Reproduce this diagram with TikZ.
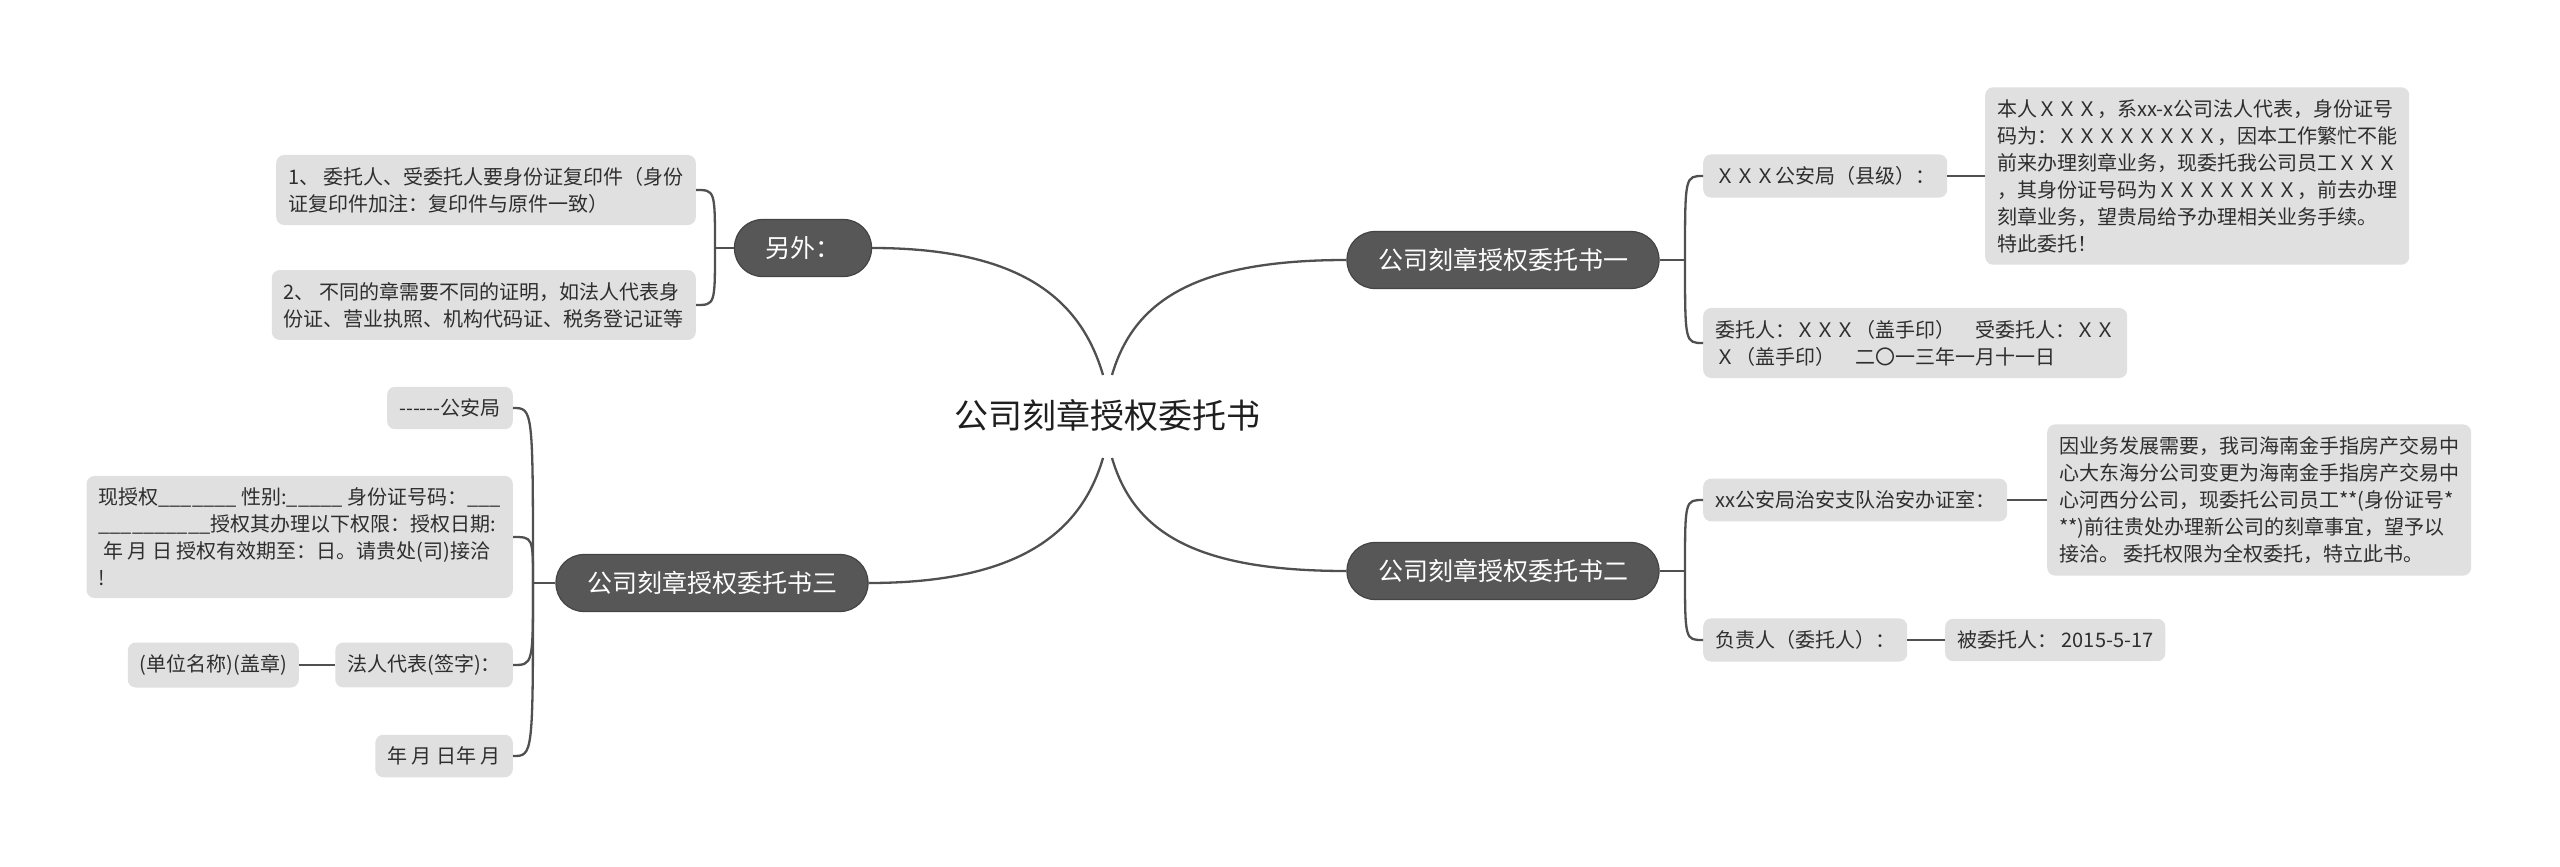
\documentclass[tikz,border=0pt]{standalone}
\usepackage{fontspec}
\newfontfamily\cjk{Noto Sans CJK SC}
\definecolor{darkn}{HTML}{575757}
\definecolor{darkb}{HTML}{444444}
\definecolor{lightn}{HTML}{E0E0E0}
\definecolor{linec}{HTML}{505050}
\definecolor{txt}{HTML}{2E2E2E}
\begin{document}
\begin{tikzpicture}[x=1pt,y=-1pt,
  conn/.style={draw=linec,line width=2.3pt},
  mainnode/.style={fill=darkn,draw=darkb,line width=1.2pt,text=white,rounded corners=28pt,minimum height=57pt,inner xsep=31pt,font=\cjk\fontsize{25}{30}\selectfont},
  leaf/.style={fill=lightn,text=txt,rounded corners=8pt,inner xsep=12pt,inner ysep=12pt,align=left,font=\cjk\fontsize{20}{27}\selectfont},
]
\useasboundingbox[fill=white] (0,0) rectangle (2560,867);

% root
\node[font=\cjk\fontsize{34}{40}\selectfont,text=black!88] (root) at (1107,415) {公司刻章授权委托书};
\coordinate (rtl) at (1103,375);
\coordinate (rtr) at (1112,375);
\coordinate (rbl) at (1103,458);
\coordinate (rbr) at (1112,458);

% main branches
\node[mainnode] (m1) at (1503,260) {公司刻章授权委托书一};
\node[mainnode] (m2) at (1503,571) {公司刻章授权委托书二};
\node[mainnode] (m3) at (803,248) {另外：};
\node[mainnode] (m4) at (712,583) {公司刻章授权委托书三};

% right side leaves
\node[leaf,anchor=west] (a1) at (1703,176) {ＸＸＸ公安局（县级）：};
\node[leaf,anchor=west] (a1d) at (1985,176) {本人ＸＸＸ，系xx-x公司法人代表，身份证号\\码为：ＸＸＸＸＸＸＸＸ，因本工作繁忙不能\\前来办理刻章业务，现委托我公司员工ＸＸＸ\\，其身份证号码为ＸＸＸＸＸＸＸ，前去办理\\刻章业务，望贵局给予办理相关业务手续。\\特此委托！};
\node[leaf,anchor=west] (a2) at (1703,343) {委托人：ＸＸＸ（盖手印）　受委托人：ＸＸ\\Ｘ（盖手印）　二〇一三年一月十一日};

\node[leaf,anchor=west] (b1) at (1703,500) {xx公安局治安支队治安办证室：};
\node[leaf,anchor=west] (b1d) at (2047,500) {因业务发展需要，我司海南金手指房产交易中\\心大东海分公司变更为海南金手指房产交易中\\心河西分公司，现委托公司员工**(身份证号*\\**)前往贵处办理新公司的刻章事宜，望予以\\接洽。 委托权限为全权委托，特立此书。};
\node[leaf,anchor=west] (b2) at (1703,640) {负责人（委托人）：};
\node[leaf,anchor=west] (b2d) at (1945,640) {被委托人： 2015-5-17};

% left side leaves
\node[leaf,anchor=east] (c1) at (696,190) {1、 委托人、受委托人要身份证复印件（身份\\证复印件加注：复印件与原件一致）};
\node[leaf,anchor=east] (c2) at (696,305) {2、 不同的章需要不同的证明，如法人代表身\\份证、营业执照、机构代码证、税务登记证等};

\node[leaf,anchor=east] (d1) at (513,408) {-{}-{}-{}-{}-{}-公安局};
\node[leaf,anchor=east] (d2) at (513,537) {现授权\_\_\_\_\_\_\_ 性别:\_\_\_\_\_ 身份证号码：\_\_\_\\\_\_\_\_\_\_\_\_\_\_授权其办理以下权限：授权日期:\\\ 年 月 日 授权有效期至：日。请贵处(司)接洽\\!};
\node[leaf,anchor=east] (d3) at (513,665) {法人代表(签字)：};
\node[leaf,anchor=east] (d3b) at (299,665) {(单位名称)(盖章)};
\node[leaf,anchor=east] (d4) at (513,756) {年 月 日年 月};

% root connectors
\draw[conn] (rtr) .. controls +(22,-75) and +(-150,0) .. (m1.west);
\draw[conn] (rtl) .. controls +(-22,-75) and +(150,0) .. (m3.east);
\draw[conn] (rbr) .. controls +(22,75) and +(-150,0) .. (m2.west);
\draw[conn] (rbl) .. controls +(-22,75) and +(150,0) .. (m4.east);

% brackets
\coordinate (k1) at (1685,260);
\draw[conn] (m1.east) -- (k1);
\draw[conn] (k1) .. controls (k1 |- a1.west) and (k1 |- a1.west) .. (a1.west);
\draw[conn] (k1) .. controls (k1 |- a2.west) and (k1 |- a2.west) .. (a2.west);
\draw[conn] (a1.east) -- (a1d.west);

\coordinate (k2) at (1685,571);
\draw[conn] (m2.east) -- (k2);
\draw[conn] (k2) .. controls (k2 |- b1.west) and (k2 |- b1.west) .. (b1.west);
\draw[conn] (k2) .. controls (k2 |- b2.west) and (k2 |- b2.west) .. (b2.west);
\draw[conn] (b1.east) -- (b1d.west);
\draw[conn] (b2.east) -- (b2d.west);

\coordinate (k3) at (715,248);
\draw[conn] (m3.west) -- (k3);
\draw[conn] (k3) .. controls (k3 |- c1.east) and (k3 |- c1.east) .. (c1.east);
\draw[conn] (k3) .. controls (k3 |- c2.east) and (k3 |- c2.east) .. (c2.east);

\coordinate (k4) at (533,583);
\draw[conn] (m4.west) -- (k4);
\draw[conn] (k4) .. controls (k4 |- d1.east) and (k4 |- d1.east) .. (d1.east);
\draw[conn] (k4) .. controls (k4 |- d2.east) and (k4 |- d2.east) .. (d2.east);
\draw[conn] (k4) .. controls (k4 |- d3.east) and (k4 |- d3.east) .. (d3.east);
\draw[conn] (k4) .. controls (k4 |- d4.east) and (k4 |- d4.east) .. (d4.east);
\draw[conn] (d3.west) -- (d3b.east);
\end{tikzpicture}
\end{document}
